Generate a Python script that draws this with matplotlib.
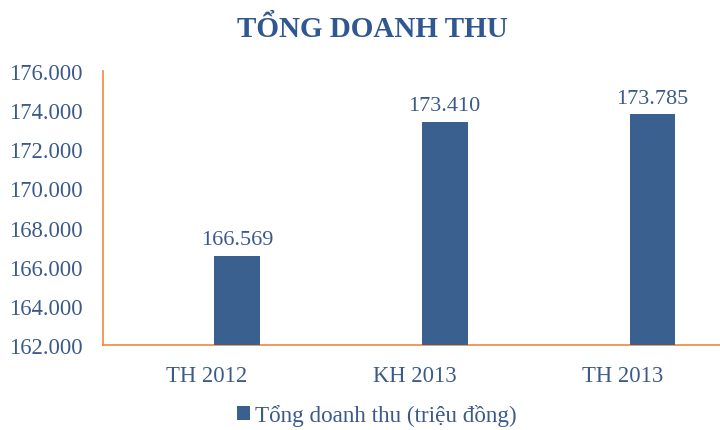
import matplotlib
matplotlib.use("Agg")
import matplotlib.pyplot as plt

# dữ liệu
categories = ["TH 2012", "KH 2013", "TH 2013"]
values = [166.569, 173.410, 173.785]
value_labels = ["166.569", "173.410", "173.785"]
yticks = [162, 164, 166, 168, 170, 172, 174, 176]
ytick_labels = ["162.000", "164.000", "166.000", "168.000",
                "170.000", "172.000", "174.000", "176.000"]
series_name = "Tổng doanh thu (triệu đồng)"

BAR = "#3A6090"
TXT = "#3B5A8A"
AXIS = "#F0883A"

plt.rcParams["font.family"] = ["Liberation Serif", "DejaVu Serif"]

fig = plt.figure(figsize=(7.2, 4.31), dpi=100)
ax = fig.add_axes([103 / 720, 1 - 346 / 431, 617 / 720, 274 / 431])

x = list(range(len(categories)))
xb = [i + 0.145 for i in x]
bars = ax.bar(xb, [v - 162 for v in values], bottom=162, width=0.22,
              color=BAR, zorder=3)

for xi, v, lab in zip(xb, values, value_labels):
    ax.text(xi, v + 0.35, lab, ha="center", va="bottom",
            fontsize=16, color=TXT)

ax.set_ylim(162, 176)
ax.set_xlim(-0.5, -0.5 + 617 / 207.7)
ax.set_yticks(yticks)
ax.set_yticklabels(ytick_labels, fontsize=16.3, color=TXT)
ax.set_xticks(x)
ax.set_xticklabels(categories, fontsize=16.3, color=TXT)
ax.tick_params(axis="x", length=0, pad=14.5)
ax.tick_params(axis="y", length=0, pad=14.5)

for s in ["top", "right"]:
    ax.spines[s].set_visible(False)
for s in ["left", "bottom"]:
    ax.spines[s].set_color(AXIS)
    ax.spines[s].set_linewidth(1.2)

fig.text(372 / 720, 1 - 29 / 431, "TỔNG DOANH THU", ha="center",
         va="center", fontsize=21, fontweight="bold", color="#2F5790")

leg = fig.legend([bars], [series_name], loc="center",
                 bbox_to_anchor=(377 / 720, 1 - 416 / 431), frameon=False,
                 fontsize=16.7, handlelength=0.55, handleheight=0.55,
                 handletextpad=0.25)
for t in leg.get_texts():
    t.set_color(TXT)

fig.savefig("out.png", dpi=100, facecolor="white")
